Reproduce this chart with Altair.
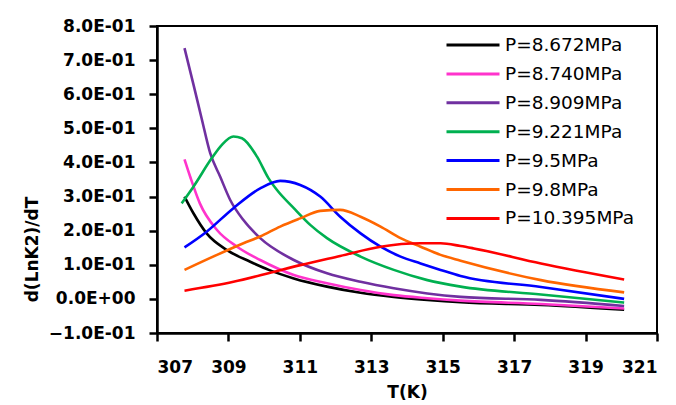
import altair as alt
import pandas as pd

series_names = ["P=8.672MPa", "P=8.740MPa", "P=8.909MPa", "P=9.221MPa",
                "P=9.5MPa", "P=9.8MPa", "P=10.395MPa"]
series_colors = ["#000000", "#FF33CC", "#7030A0", "#00B050",
                 "#0000FF", "#FF6600", "#FF0000"]

t_black = [307.77, 308.02, 308.39, 308.96, 309.61, 310.13, 310.83, 311.76,
           312.70, 313.63, 314.57, 315.50, 317.75, 320.08]
v_black = [0.300, 0.251, 0.192, 0.143, 0.109, 0.085, 0.060, 0.036,
           0.018, 0.006, -0.003, -0.010, -0.018, -0.032]

t_pink = [307.77, 307.93, 308.20, 308.68, 309.24, 309.89, 310.83, 311.76,
          312.70, 313.63, 314.57, 315.50, 317.75, 320.08]
v_pink = [0.409, 0.358, 0.280, 0.202, 0.153, 0.114, 0.070, 0.046,
          0.026, 0.011, 0.002, -0.005, -0.015, -0.028]

t_purple = [307.77, 308.02, 308.25, 308.49, 308.77, 309.05, 309.42, 309.89,
            310.83, 311.76, 312.70, 313.63, 314.57, 315.50, 317.75, 320.08]
v_purple = [0.735, 0.629, 0.529, 0.427, 0.358, 0.290, 0.231, 0.178,
            0.114, 0.075, 0.050, 0.031, 0.016, 0.006, -0.003, -0.021]

t_green = [307.69, 308.02, 308.53, 308.81, 309.14, 309.38, 309.80, 310.12,
           310.36, 310.83, 311.29, 311.76, 312.70, 313.63, 314.57, 315.50,
           317.75, 320.08]
v_green = [0.280, 0.329, 0.412, 0.451, 0.476, 0.471, 0.417, 0.354,
           0.319, 0.266, 0.217, 0.178, 0.124, 0.085, 0.055, 0.036,
           0.013, -0.011]

t_blue = [307.77, 308.39, 309.14, 309.89, 310.45, 311.01, 311.57, 312.13,
          312.70, 313.26, 313.82, 314.38, 314.94, 315.50, 317.75, 320.08]
v_blue = [0.151, 0.197, 0.266, 0.324, 0.346, 0.334, 0.300, 0.241,
          0.192, 0.153, 0.124, 0.104, 0.085, 0.067, 0.035, 0.000]

t_orange = [307.77, 308.68, 309.42, 309.89, 310.45, 311.01, 311.57, 312.13,
            312.70, 313.26, 313.82, 314.38, 314.94, 315.50, 317.75, 320.08]
v_orange = [0.085, 0.129, 0.163, 0.183, 0.212, 0.236, 0.258, 0.261,
            0.241, 0.212, 0.178, 0.153, 0.129, 0.112, 0.055, 0.019]

t_red = [307.77, 309.14, 310.12, 311.01, 312.13, 313.26, 314.38, 314.94,
         315.50, 315.87, 317.75, 320.08]
v_red = [0.024, 0.050, 0.075, 0.099, 0.126, 0.153, 0.163, 0.163,
         0.155, 0.148, 0.104, 0.057]

x_ticks = [307, 309, 311, 313, 315, 317, 319, 321]
y_ticks = [-0.1, 0.0, 0.1, 0.2, 0.3, 0.4, 0.5, 0.6, 0.7, 0.8]

all_t = [t_black, t_pink, t_purple, t_green, t_blue, t_orange, t_red]
all_v = [v_black, v_pink, v_purple, v_green, v_blue, v_orange, v_red]

rows = []
for i, (name, ts, vs) in enumerate(zip(series_names, all_t, all_v)):
    for j, (t, v) in enumerate(zip(ts, vs)):
        rows.append({"T": t, "val": v, "series": name, "idx": i, "ord": j})
df = pd.DataFrame(rows)

FONT = "DejaVu Sans"

chart = alt.Chart(df).mark_line(strokeWidth=2.6, interpolate="monotone").encode(
    x=alt.X("T:Q", title="T(K)",
            scale=alt.Scale(domain=[307, 321], nice=False, zero=False),
            axis=alt.Axis(values=x_ticks, labelFont=FONT, labelFontSize=17,
                          labelFontWeight="bold", labelBaseline="alphabetic",
                          labelPadding=31, titleFont=FONT, titleFontSize=17,
                          titleFontWeight="bold", titleBaseline="alphabetic",
                          titleY=64)),
    y=alt.Y("val:Q", title="d(LnK2)/dT",
            scale=alt.Scale(domain=[-0.1, 0.8], nice=False, zero=False),
            axis=alt.Axis(values=y_ticks, labelFont=FONT, labelFontSize=17,
                          labelFontWeight="bold", labelPadding=14,
                          labelExpr="abs(datum.value) < 1e-9 ? '0.0E+00' : format(datum.value*10, '.1f') + 'E-01'",
                          titleFont=FONT, titleFontSize=17, titleFontWeight="bold",
                          titleBaseline="alphabetic", titleX=-120, titleY=223,
                          titleAngle=270)),
    color=alt.Color("series:N", sort=series_names,
                    scale=alt.Scale(domain=series_names, range=series_colors),
                    legend=alt.Legend(title=None, orient="none", legendX=288,
                                      legendY=9, symbolType="stroke",
                                      symbolSize=2809, symbolStrokeWidth=3,
                                      labelFont=FONT, labelFontSize=18.5,
                                      labelColor="black", clipHeight=20,
                                      rowPadding=8.9, labelOffset=4, padding=0)),
    detail="idx:O",
    order="ord:Q",
).properties(
    width=500, height=307,
    autosize=alt.AutoSizeParams(type="none"),
    padding={"left": 149, "top": 18, "right": 11, "bottom": 72},
).configure_view(
    stroke="black", strokeWidth=2
).configure_axis(
    grid=False, domainColor="black", domainWidth=2.5, tickColor="black",
    tickWidth=2.5, tickSize=8, labelColor="black", titleColor="black"
)

chart.save("out.html", embed_options={"renderer": "svg", "actions": False})
